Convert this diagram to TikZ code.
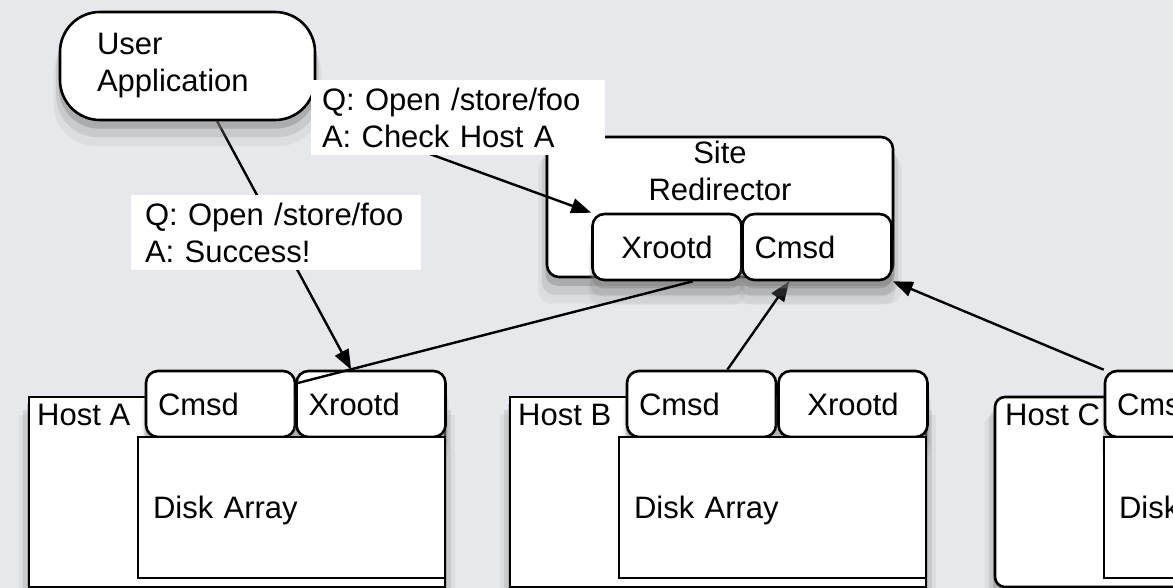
\documentclass[tikz,border=0pt]{standalone}
\usepackage{fontspec}
\setmainfont{Liberation Sans}
\usepackage{tikz}
\usetikzlibrary{arrows.meta,positioning,calc,shadows}
\definecolor{slidebg}{RGB}{230,232,236}
\newcommand{\boxfont}{\fontsize{31}{37}\selectfont}
\pgfdeclarelayer{bg}
\pgfdeclarelayer{wires}
\pgfsetlayers{bg,wires,main}
\tikzset{
    softshadow/.style={drop shadow={opacity=0.10, shadow xshift=0pt, shadow yshift=-22pt, shadow scale=1.05},
                       drop shadow={opacity=0.20, shadow xshift=0pt, shadow yshift=-15pt, shadow scale=1.03},
                       drop shadow={opacity=0.40, shadow xshift=0pt, shadow yshift=-8pt, shadow scale=1.01}},
    app/.style={draw, line width=2.6pt, fill=white, softshadow, rounded corners=40pt, minimum width=255pt,
                minimum height=108pt, text width=181pt, inner xsep=0pt, align=left},
    redir/.style={draw, line width=2.6pt, fill=white, softshadow, rounded corners=12pt, minimum width=346pt, minimum height=140pt},
    proc/.style={draw, line width=2.6pt, fill=white, softshadow, rounded corners=12pt, minimum width=149pt,
                 minimum height=66pt, text width=125pt, inner xsep=12pt, align=left},
    procC/.style={proc, align=center},
    host/.style={draw, line width=2.6pt, fill=white, softshadow, minimum width=416pt, minimum height=190pt},
    hostR/.style={host, rounded corners=10pt},
    hosttext/.style={anchor=north west, inner sep=0pt},
    disk/.style={draw, line width=2.6pt, fill=white, minimum width=307pt, minimum height=141pt, text width=277pt,
                 inner xsep=15pt, align=left, text depth=0pt},
    msg/.style={fill=white, minimum height=75pt, align=left},
    flow/.style={line width=2.4pt, -{Triangle[length=20pt,width=15pt]}},
    wire/.style={line width=2.4pt},
}

\begin{document}
\begin{tikzpicture}[x=1pt, y=-1pt, font=\boxfont]
    % slide background and redirector frame
    \begin{pgfonlayer}{bg}
        \fill[slidebg] (0,0) rectangle (1173,588);
        \node[redir] (rd) at (720,207) {};
        \node[anchor=north, align=center, inner sep=0pt] (rdt) at (720,141) {Site\\Redirector};
    \end{pgfonlayer}
    \useasboundingbox (0,0) rectangle (1173,588);

    % User application
    \node[app] (ua) at (187.5,66) {User\\Application};

    % Redirector daemons
    \node[procC] (rx) at (667,247) {Xrootd};
    \node[proc] (rc) at (817,247) {Cmsd};

    % Host A
    \node[host] (ha) at (237,492) {};
    \node[hosttext] (hat) at (37,404) {Host A};
    \node[proc] (ca) at (220.5,404) {Cmsd};
    \node[proc] (xa) at (371,404) {Xrootd};
    \node[disk] (da) at (291.5,507.5) {Disk Array};

    % Host B
    \node[host] (hb) at (718,492) {};
    \node[hosttext] (hbt) at (518,404) {Host B};
    \node[proc] (cb) at (701.5,404) {Cmsd};
    \node[procC] (xb) at (853,404) {Xrootd};
    \node[disk] (db) at (772.5,507.5) {Disk Array};

    % Host C
    \node[hostR] (hc) at (1203,492) {};
    \node[hosttext] (hct) at (1005,404) {Host C};
    \node[proc] (cc) at (1179.5,404) {Cmsd};
    \node[disk] (dc) at (1257.5,507.5) {Disk Array};

    % Messages
    \node[msg, text width=272pt, inner xsep=11pt] (m1) at (458,117.5) {Q: Open /store/foo\\A: Check Host A};
    \node[msg, text width=262pt, inner xsep=14pt] (m2) at (276,232.5) {Q: Open /store/foo\\A: Success!};

    % Connections
    \begin{pgfonlayer}{wires}
        \draw[flow] (ua) -- (rx.north west);
        \draw[flow] (ua) -- (xa.120);
        \draw[flow] (cb.53) -- (rc.-129);
        \draw[flow] (cc.north west) -- (rc.south east);
    \end{pgfonlayer}
    \draw[wire] (xa.165) -- (rx.-53);
\end{tikzpicture}
\end{document}
